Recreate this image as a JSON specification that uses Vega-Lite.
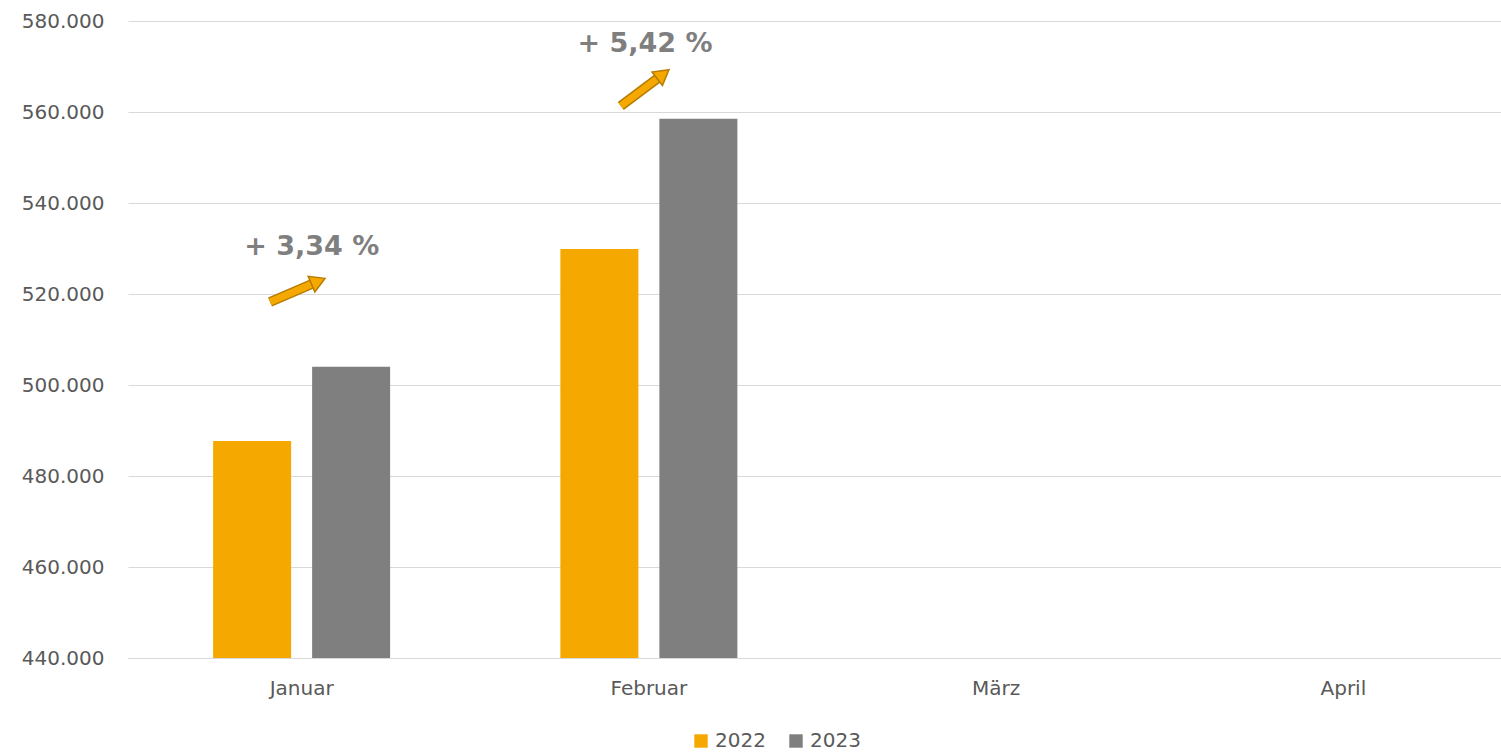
{
  "$schema": "https://vega.github.io/schema/vega-lite/v6.json",
  "width": 1372,
  "height": 637,
  "autosize": {"type": "none"},
  "padding": {"left": 128, "top": 21, "right": 1, "bottom": 95},
  "background": "white",
  "config": {
    "locale": {"number": {"decimal": ",", "thousands": ".", "grouping": [3], "currency": ["", " €"]}},
    "font": "DejaVu Sans",
    "view": {"stroke": null}
  },
  "datasets": {
    "bars": [
      {"Monat": "Januar", "Jahr": "2022", "Wert": 487700},
      {"Monat": "Januar", "Jahr": "2023", "Wert": 504000},
      {"Monat": "Februar", "Jahr": "2022", "Wert": 529900},
      {"Monat": "Februar", "Jahr": "2023", "Wert": 558500}
    ],
    "arrows": [
      {"id": "Jan", "x": 0.409, "x2": 0.548, "y": 518240, "y2": 522800},
      {"id": "Feb", "x": 1.419, "x2": 1.541, "y": 561320, "y2": 568300}
    ],
    "labels": [
      {"x": 0.529, "y": 530330, "text": "+ 3,34 %"},
      {"x": 1.489, "y": 574945, "text": "+ 5,42 %"}
    ]
  },
  "resolve": {"scale": {"x": "independent"}},
  "layer": [
    {
      "data": {"name": "bars"},
      "mark": {"type": "bar", "clip": true},
      "encoding": {
        "x": {
          "field": "Monat", "type": "nominal",
          "scale": {"domain": ["Januar", "Februar", "März", "April"], "paddingInner": 0, "paddingOuter": 0, "range": [0, 1389]},
          "axis": {"title": null, "labelAngle": 0, "ticks": false, "domainColor": "#D9D9D9", "domainWidth": 1, "labelFontSize": 20, "labelColor": "#595959", "labelPadding": 20, "labelFont": "DejaVu Sans"}
        },
        "xOffset": {
          "field": "Jahr", "type": "nominal",
          "scale": {"paddingInner": 0.212, "paddingOuter": 0.86}
        },
        "y": {
          "field": "Wert", "type": "quantitative",
          "scale": {"domain": [440000, 580000], "nice": false, "zero": false},
          "axis": {"title": null, "values": [440000, 460000, 480000, 500000, 520000, 540000, 560000, 580000], "format": ",.0f", "ticks": false, "domain": false, "gridColor": "#D9D9D9", "gridWidth": 1, "labelFontSize": 20, "labelColor": "#595959", "labelPadding": 24, "labelFont": "DejaVu Sans"}
        },
        "color": {
          "field": "Jahr", "type": "nominal",
          "scale": {"domain": ["2022", "2023"], "range": ["#F5A800", "#7F7F7F"]},
          "legend": {"title": null, "orient": "none", "direction": "horizontal", "legendX": 563, "legendY": 710, "symbolType": "square", "symbolSize": 180, "symbolStrokeWidth": 0, "labelFontSize": 20, "labelColor": "#595959", "labelFont": "DejaVu Sans", "columnPadding": 20, "labelOffset": 4}
        }
      }
    },
    {
      "data": {"name": "arrows"},
      "layer": [
        {
          "mark": {"type": "rule", "strokeWidth": 10, "color": "#B57C00", "strokeCap": "butt"},
          "encoding": {
            "x": {"field": "x", "type": "quantitative", "scale": {"domain": [0, 4], "nice": false, "zero": false, "range": [0, 1389]}, "axis": null},
            "x2": {"field": "x2"},
            "y": {"field": "y", "type": "quantitative"},
            "y2": {"field": "y2"}
          }
        },
        {
          "mark": {"type": "rule", "strokeWidth": 7, "color": "#F5A800", "strokeCap": "butt"},
          "encoding": {
            "x": {"field": "x", "type": "quantitative", "scale": {"domain": [0, 4], "nice": false, "zero": false, "range": [0, 1389]}, "axis": null},
            "x2": {"field": "x2"},
            "y": {"field": "y", "type": "quantitative"},
            "y2": {"field": "y2"}
          }
        },
        {
          "transform": [{"filter": "datum.id === 'Jan'"}],
          "mark": {"type": "point", "shape": "triangle-right", "filled": true, "size": 290, "angle": -23, "fill": "#F5A800", "stroke": "#B57C00", "strokeWidth": 1.5, "opacity": 1},
          "encoding": {
            "x": {"field": "x2", "type": "quantitative", "scale": {"domain": [0, 4], "nice": false, "zero": false, "range": [0, 1389]}, "axis": null},
            "y": {"field": "y2", "type": "quantitative"}
          }
        },
        {
          "transform": [{"filter": "datum.id === 'Feb'"}],
          "mark": {"type": "point", "shape": "triangle-right", "filled": true, "size": 290, "angle": -37.5, "fill": "#F5A800", "stroke": "#B57C00", "strokeWidth": 1.5, "opacity": 1},
          "encoding": {
            "x": {"field": "x2", "type": "quantitative", "scale": {"domain": [0, 4], "nice": false, "zero": false, "range": [0, 1389]}, "axis": null},
            "y": {"field": "y2", "type": "quantitative"}
          }
        }
      ]
    },
    {
      "data": {"name": "labels"},
      "mark": {"type": "text", "fontSize": 27, "fontWeight": "bold", "color": "#7F7F7F", "font": "DejaVu Sans", "align": "center", "baseline": "middle"},
      "encoding": {
        "x": {"field": "x", "type": "quantitative", "scale": {"domain": [0, 4], "nice": false, "zero": false, "range": [0, 1389]}, "axis": null},
        "y": {"field": "y", "type": "quantitative"},
        "text": {"field": "text"}
      }
    }
  ]
}
